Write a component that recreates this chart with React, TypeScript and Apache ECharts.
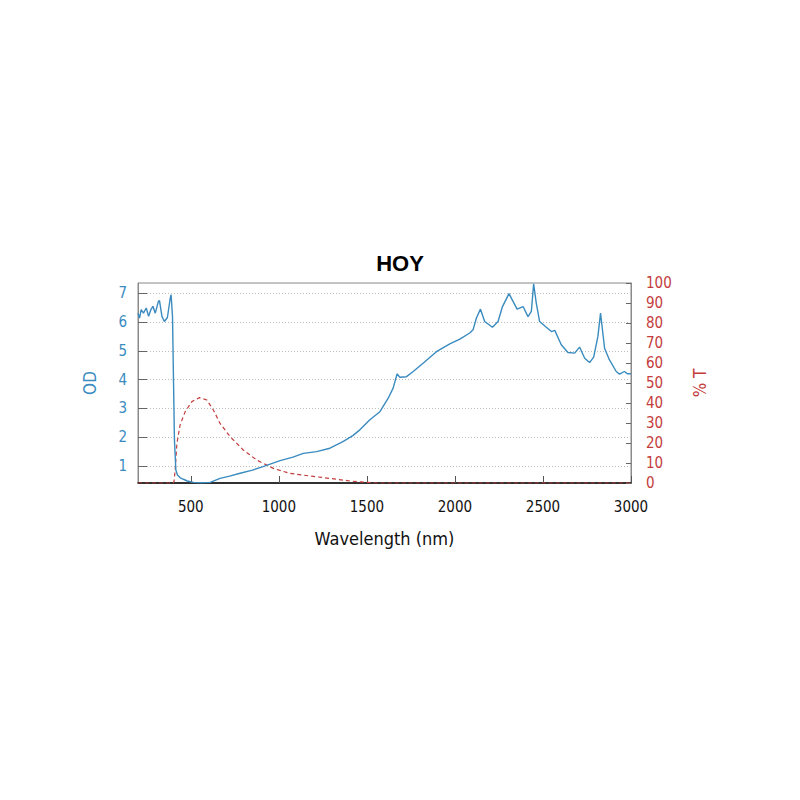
import React, { useEffect, useRef } from "react";
import * as echarts from "echarts";

const TITLE = "HOY";
const X_NAME = "Wavelength (nm)";
const OD_NAME = "OD";
const T_NAME = "% T";

const odWavelength = [
  200, 209, 218, 231, 247, 260, 273, 285, 298, 316, 322, 336, 350, 367, 383, 388, 396, 401, 407, 415,
  424, 440, 458, 480, 515, 560, 610, 666, 720, 780, 850, 910, 1007, 1080, 1139, 1215, 1290, 1364, 1420,
  1460, 1517, 1574, 1621, 1649, 1672, 1687, 1725, 1763, 1819, 1895, 1971, 2028, 2084, 2103, 2122, 2145,
  2169, 2213, 2245, 2270, 2307, 2330, 2353, 2387, 2415, 2434, 2447, 2462, 2481, 2519, 2548, 2567, 2604,
  2642, 2680, 2708, 2737, 2765, 2788, 2812, 2827, 2850, 2877, 2916, 2935, 2962, 2981, 3000,
];
const odValues = [
  6.31, 6.14, 6.43, 6.31, 6.49, 6.2, 6.43, 6.55, 6.31, 6.72, 6.75, 6.2, 6.02, 6.16, 6.83, 6.95, 6.19, 4.21, 1.9, 0.85,
  0.68, 0.58, 0.53, 0.47, 0.42, 0.41, 0.42, 0.56, 0.64, 0.74, 0.85, 0.97, 1.18, 1.3, 1.43, 1.49, 1.61, 1.84, 2.05,
  2.25, 2.6, 2.88, 3.35, 3.7, 4.2, 4.08, 4.1, 4.28, 4.57, 4.97, 5.24, 5.41, 5.62, 5.73, 6.14, 6.45,
  6.02, 5.82, 6.02, 6.54, 6.99, 6.72, 6.45, 6.54, 6.19, 6.37, 7.33, 6.66, 6.02, 5.82, 5.67, 5.71, 5.21,
  4.94, 4.92, 5.13, 4.74, 4.59, 4.78, 5.5, 6.31, 5.09, 4.69, 4.28, 4.19, 4.28, 4.2, 4.2,
];

const tWavelength = [
  200, 401, 405, 411, 421, 439, 468, 506, 549, 591, 628, 666, 723, 798, 874, 969, 1063, 1177, 1290, 1404,
  1498, 1550, 3000,
];
const tValues = [
  0, 0, 1, 6.5, 19.8, 29, 35.7, 40.7, 42.7, 41.5, 36.5, 29.8, 23.2, 16.5, 11.5, 7.3, 4.8, 3.5, 2.3, 1,
  0.3, 0, 0,
];

const BLUE = "#3a8bbf";
const RED = "#c43c3c";
const FONT = "'DejaVu Sans Condensed', 'DejaVu Sans', sans-serif";

export default function App() {
  const ref = useRef<HTMLDivElement>(null);
  useEffect(() => {
    const chart = echarts.init(ref.current!, null, { renderer: "svg" });
    chart.setOption({
      animation: false,
      backgroundColor: "#fff",
      textStyle: { fontFamily: FONT },
      title: {
        text: TITLE,
        left: 395,
        top: 247,
        textAlign: "center",
        textStyle: { fontSize: 22, fontWeight: "bold", color: "#000", fontFamily: "'Liberation Sans', Arial, sans-serif" },
      },
      grid: {
        left: 138,
        right: 169,
        top: 283,
        bottom: 317,
        show: true,
        borderColor: "#8a8a8a",
        borderWidth: 1,
      },
      xAxis: {
        type: "value",
        min: 200,
        max: 3000,
        splitNumber: 6,
        name: X_NAME,
        nameLocation: "middle",
        nameGap: 46,
        nameTextStyle: { color: "#111", fontSize: 18, fontFamily: FONT },
        axisLine: { show: true, lineStyle: { color: "#000", width: 1.5 } },
        axisTick: { show: true, inside: true, length: 7, lineStyle: { color: "#555" } },
        axisLabel: {
          color: "#111",
          fontSize: 15,
          margin: 16,
          showMinLabel: false,
          formatter: (v: number) => (v % 500 === 0 ? String(v) : ""),
        },
        splitLine: { show: false },
      },
      yAxis: [
        {
          type: "value",
          position: "left",
          min: 0.4,
          max: 7.36,
          splitNumber: 7,
          name: OD_NAME,
          nameLocation: "middle",
          nameGap: 40,
          nameRotate: 90,
          nameTextStyle: { color: BLUE, fontSize: 17, fontFamily: FONT },
          axisLine: { show: true, lineStyle: { color: "#8a8a8a" } },
          axisTick: { show: true, inside: true, length: 9, lineStyle: { color: "#666" } },
          axisLabel: {
            color: BLUE,
            fontSize: 15,
            margin: 11,
            showMinLabel: false,
            showMaxLabel: false,
            formatter: (v: number) => (Math.abs(v - Math.round(v)) < 1e-6 ? String(Math.round(v)) : ""),
          },
          splitLine: { show: true, lineStyle: { type: [1, 2], color: "#bcbcbc", width: 1 } },
        },
        {
          type: "value",
          position: "right",
          min: 0,
          max: 100,
          interval: 10,
          name: T_NAME,
          nameLocation: "middle",
          nameGap: 60,
          nameRotate: 90,
          nameTextStyle: { color: RED, fontSize: 17, fontFamily: FONT },
          axisLine: { show: true, lineStyle: { color: "#8a8a8a" } },
          axisTick: { show: true, inside: true, length: 5, lineStyle: { color: "#666" } },
          axisLabel: { color: RED, fontSize: 15, margin: 15 },
          splitLine: { show: false },
        },
      ],
      series: [
        {
          type: "line",
          name: T_NAME,
          yAxisIndex: 1,
          showSymbol: false,
          data: tWavelength.map((w, i) => [w, tValues[i]]),
          lineStyle: { color: RED, width: 1.2, type: [4, 3] },
          itemStyle: { color: RED },
        },
        {
          type: "line",
          name: OD_NAME,
          yAxisIndex: 0,
          showSymbol: false,
          data: odWavelength.map((w, i) => [w, odValues[i]]),
          lineStyle: { color: BLUE, width: 1.4 },
          itemStyle: { color: BLUE },
        },
      ],
    });
    return () => chart.dispose();
  }, []);
  return (
    <div
      ref={ref}
      style={{ position: "absolute", left: 0, top: 0, width: 800, height: 800 }}
    />
  );
}
